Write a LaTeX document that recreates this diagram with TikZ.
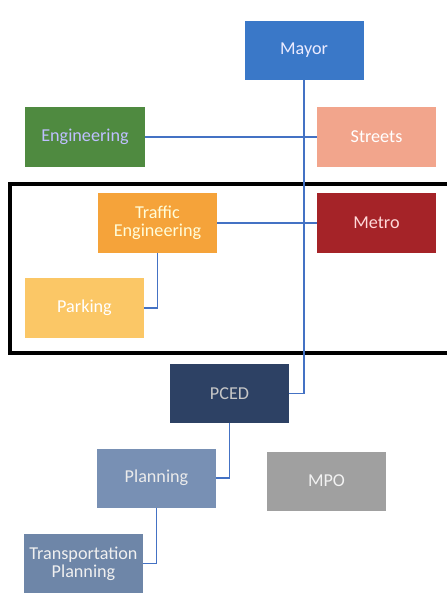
\documentclass[tikz,border=0pt]{standalone}
\usepackage{fontspec}
\setmainfont{Carlito}
\usetikzlibrary{calc}
\definecolor{mayorblue}{HTML}{3A78C8}
\definecolor{enggreen}{HTML}{4F8A40}
\definecolor{streetsalmon}{HTML}{F2A58C}
\definecolor{trafficorange}{HTML}{F5A33A}
\definecolor{metrored}{HTML}{A52328}
\definecolor{parkingyellow}{HTML}{FBC766}
\definecolor{pcednavy}{HTML}{2D4164}
\definecolor{planslate}{HTML}{7890B4}
\definecolor{mpogray}{HTML}{A0A0A0}
\definecolor{transslate}{HTML}{6E86A8}
\definecolor{linkblue}{HTML}{4472C4}
\tikzset{
	dept/.style={rectangle, minimum width=3.57cm, minimum height=1.77cm, inner sep=0pt, align=center, font=\fontsize{15.5}{17}\selectfont, text=white},
	link/.style={draw=linkblue, line width=1.3pt}
}

\begin{document}
\begin{tikzpicture}[x=0.03cm, y=-0.03cm]
		%%%%% START %%%%%
		\useasboundingbox[fill=white] (0, 0) rectangle (446, 600);
		
		\draw[line width=2.6pt] (10, 184) rectangle (450, 353);
		
		\node[dept, fill=mayorblue, text=blue!8!white] (mayor) at (304, 50.5) {Mayor};
		\node[dept, fill=enggreen, text=blue!25!white] (eng) at (85, 137) {Engineering};
		\node[dept, fill=streetsalmon] (streets) at (376.5, 137) {Streets};
		
		\node[dept, fill=trafficorange, text=yellow!15!white] (traffic) at (157.5, 223) {Traffic\\[-2pt]Engineering};
		\node[dept, fill=metrored, text=red!15!white] (metro) at (376.5, 223) {Metro};
		\node[dept, fill=parkingyellow] (parking) at (84.5, 308) {Parking};
		
		\node[dept, fill=pcednavy, text=black!22!white] (pced) at (229.5, 393.5) {PCED};
		\node[dept, fill=planslate, text=black!8!white] (planning) at (156.5, 478) {Planning};
		\node[dept, fill=mpogray, text=black!5!white] (mpo) at (326.5, 481) {MPO};
		\node[dept, fill=transslate, text=black!6!white] (transplan) at (83.5, 563.5) {Transportation\\[-2pt]Planning};
		
		\draw[link] (mayor.south) |- (pced.east);
		\draw[link] (eng.east) -- (streets.west);
		\draw[link] (traffic.east) -- (metro.west);
		\draw[link] (traffic.south) |- (parking.east);
		\draw[link] (pced.south) |- (planning.east);
		\draw[link] (planning.south) |- (transplan.east);
		%%%%% END %%%%%
	\end{tikzpicture}
\end{document}
